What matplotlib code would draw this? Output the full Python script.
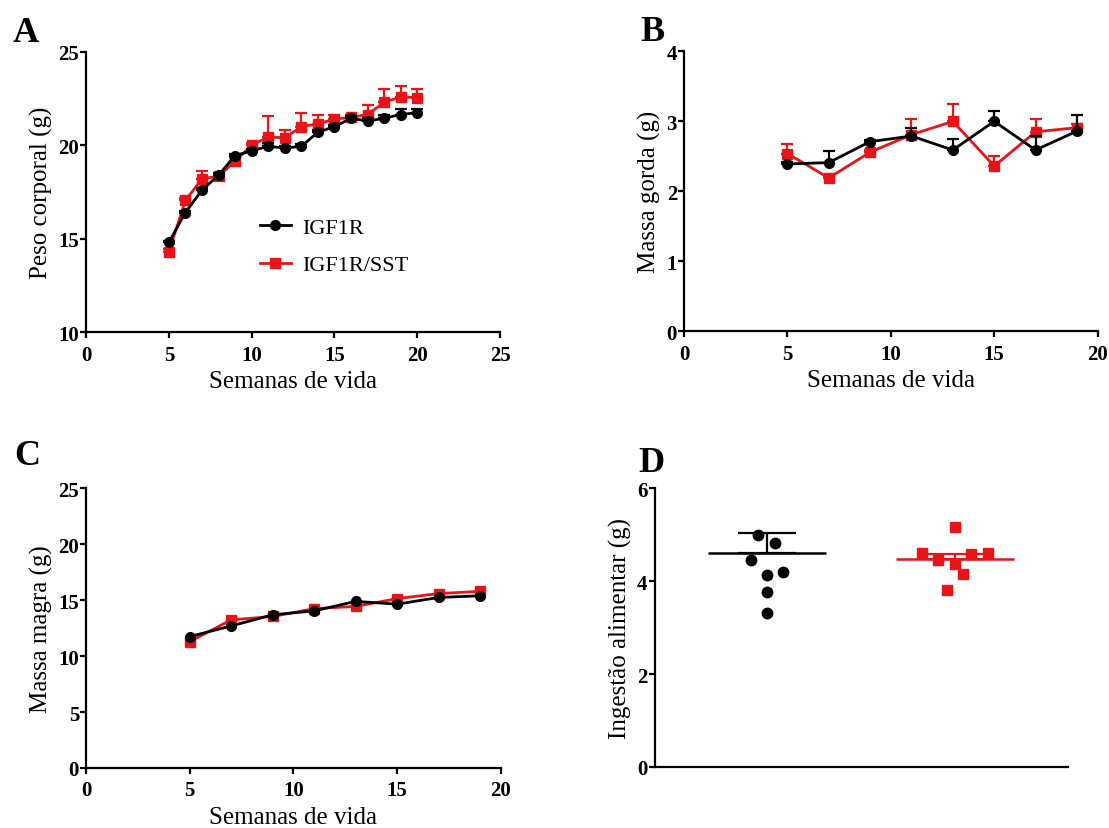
import numpy as np
import matplotlib
matplotlib.use("Agg")
import matplotlib.pyplot as plt
from matplotlib.lines import Line2D

####################################################
# A: peso corporal
weeks_a = [5, 6, 7, 8, 9, 10, 11, 12, 13, 14, 15, 16, 17, 18, 19, 20]
peso_igf1r = [14.8, 16.4, 17.6, 18.4, 19.45, 19.7, 19.95, 19.85, 19.95, 20.7, 21.0, 21.45, 21.3, 21.45, 21.65, 21.75]
peso_igf1r_err = [0.1, 0.1, 0.1, 0.1, 0.1, 0.1, 0.15, 0.1, 0.1, 0.1, 0.1, 0.1, 0.15, 0.15, 0.3, 0.2]
peso_sst = [14.3, 17.05, 18.2, 18.35, 19.15, 20.0, 20.45, 20.4, 21.0, 21.15, 21.4, 21.5, 21.65, 22.3, 22.6, 22.55]
peso_sst_err = [0.15, 0.15, 0.4, 0.1, 0.15, 0.15, 1.1, 0.4, 0.75, 0.5, 0.2, 0.1, 0.5, 0.7, 0.6, 0.45]

# B: massa gorda
weeks_b = [5, 7, 9, 11, 13, 15, 17, 19]
gorda_igf1r = [2.39, 2.41, 2.71, 2.79, 2.59, 3.0, 2.59, 2.86]
gorda_igf1r_err = [0.03, 0.17, 0.03, 0.12, 0.16, 0.15, 0.2, 0.23]
gorda_sst = [2.54, 2.19, 2.56, 2.81, 3.0, 2.36, 2.85, 2.91]
gorda_sst_err = [0.14, 0.03, 0.03, 0.23, 0.25, 0.15, 0.18, 0.05]

# C: massa magra
weeks_c = [5, 7, 9, 11, 13, 15, 17, 19]
magra_igf1r = [11.75, 12.7, 13.7, 14.05, 14.9, 14.65, 15.25, 15.4]
magra_sst = [11.3, 13.25, 13.55, 14.25, 14.45, 15.15, 15.6, 15.8]

# D: ingestao alimentar (pontos individuais, media e DP)
ingestao_igf1r = [5.0, 4.82, 4.45, 4.14, 4.19, 3.76, 3.32]
jitter_igf1r = [-0.047, 0.043, -0.088, 0.0, 0.084, 0.0, 0.0]
ingestao_sst = [5.17, 4.61, 4.45, 4.59, 4.61, 4.37, 4.16, 3.82]
jitter_sst = [0.0, -0.177, -0.09, 0.088, 0.174, 0.0, 0.041, -0.043]
media_d = [4.61, 4.49]
dp_d = [0.42, 0.1]

groups = ["IGF1R", "IGF1R/SST"]
RED = "#e8141a"
####################################################

plt.rcParams["font.family"] = ["Liberation Serif", "DejaVu Serif"]
plt.rcParams["axes.linewidth"] = 1.6


def style_axis(ax, xlim, xticks, ylim, yticks):
    ax.spines["top"].set_visible(False)
    ax.spines["right"].set_visible(False)
    ax.set_xlim(*xlim)
    ax.set_ylim(*ylim)
    ax.set_xticks(xticks)
    ax.set_yticks(yticks)
    ax.tick_params(width=1.6, length=4, labelsize=15)
    ax.tick_params(axis="y", pad=1)
    ax.tick_params(axis="x", pad=5)
    for lab in ax.get_xticklabels() + ax.get_yticklabels():
        lab.set_fontweight("bold")


def plot_series(ax, x, y, err, color, marker, ms):
    if err is not None:
        ax.errorbar(x, y, yerr=[np.zeros(len(err)), err], fmt="none",
                    ecolor=color, elinewidth=1.6, capsize=4, capthick=1.6,
                    clip_on=False)
    ax.plot(x, y, color=color, marker=marker, ms=ms, lw=2, clip_on=False)


fig = plt.figure(figsize=(11.09, 8.29), dpi=100)

# Panel A
ax_a = fig.add_axes([0.0776, 0.5983, 0.3733, 0.3378])
plot_series(ax_a, weeks_a, peso_sst, peso_sst_err, RED, "s", 7)
plot_series(ax_a, weeks_a, peso_igf1r, peso_igf1r_err, "black", "o", 7)
style_axis(ax_a, (0, 25), range(0, 26, 5), (10, 25), range(10, 26, 5))
ax_a.set_xlabel("Semanas de vida", fontsize=18, labelpad=4)
ax_a.set_ylabel("Peso corporal (g)", fontsize=18, labelpad=4)
handles = [
    Line2D([], [], color="black", marker="o", ms=7, lw=2),
    Line2D([], [], color=RED, marker="s", ms=7, lw=2),
]
ax_a.legend(handles, groups, loc="center left", bbox_to_anchor=(0.42, 0.305),
            frameon=False, fontsize=16, handlelength=1.4, handletextpad=0.5,
            labelspacing=0.75, borderpad=0, borderaxespad=0)

# Panel B
ax_b = fig.add_axes([0.6168, 0.5995, 0.3729, 0.3372])
plot_series(ax_b, weeks_b, gorda_sst, gorda_sst_err, RED, "s", 7)
plot_series(ax_b, weeks_b, gorda_igf1r, gorda_igf1r_err, "black", "o", 7)
style_axis(ax_b, (0, 20), range(0, 21, 5), (0, 4), range(0, 5))
ax_b.set_xlabel("Semanas de vida", fontsize=18, labelpad=4)
ax_b.set_ylabel("Massa gorda (g)", fontsize=18, labelpad=4)

# Panel C
ax_c = fig.add_axes([0.0775, 0.0724, 0.3742, 0.3372])
plot_series(ax_c, weeks_c, magra_sst, None, RED, "s", 7)
plot_series(ax_c, weeks_c, magra_igf1r, None, "black", "o", 7)
style_axis(ax_c, (0, 20), range(0, 21, 5), (0, 25), range(0, 26, 5))
ax_c.set_xlabel("Semanas de vida", fontsize=18, labelpad=4)
ax_c.set_ylabel("Massa magra (g)", fontsize=18, labelpad=4)

# Panel D
ax_d = fig.add_axes([0.5902, 0.0736, 0.3724, 0.336])
colors_d = ["black", RED]
markers_d = ["o", "s"]
for i, (vals, jit) in enumerate([(ingestao_igf1r, jitter_igf1r), (ingestao_sst, jitter_sst)]):
    ax_d.plot(i + np.array(jit), vals, ls="none", marker=markers_d[i],
              color=colors_d[i], ms=7.5)
    ax_d.hlines(media_d[i], i - 0.313, i + 0.313, color=colors_d[i], lw=1.8)
    ax_d.errorbar(i, media_d[i], yerr=[[0], [dp_d[i]]], fmt="none",
                  ecolor=colors_d[i], elinewidth=1.6, capsize=21, capthick=1.6)
style_axis(ax_d, (-0.6, 1.6), [], (0, 6), range(0, 7, 2))
ax_d.tick_params(axis="x", length=0)
ax_d.set_ylabel("Ingestão alimentar (g)", fontsize=18, labelpad=4)

# panel letters
for letter, (x, y) in zip("ABCD", [(0.0117, 0.949), (0.5775, 0.95), (0.0126, 0.439), (0.576, 0.431)]):
    fig.text(x, y, letter, fontsize=26, fontweight="bold")

plt.savefig("out.png", dpi=100)
plt.close()
